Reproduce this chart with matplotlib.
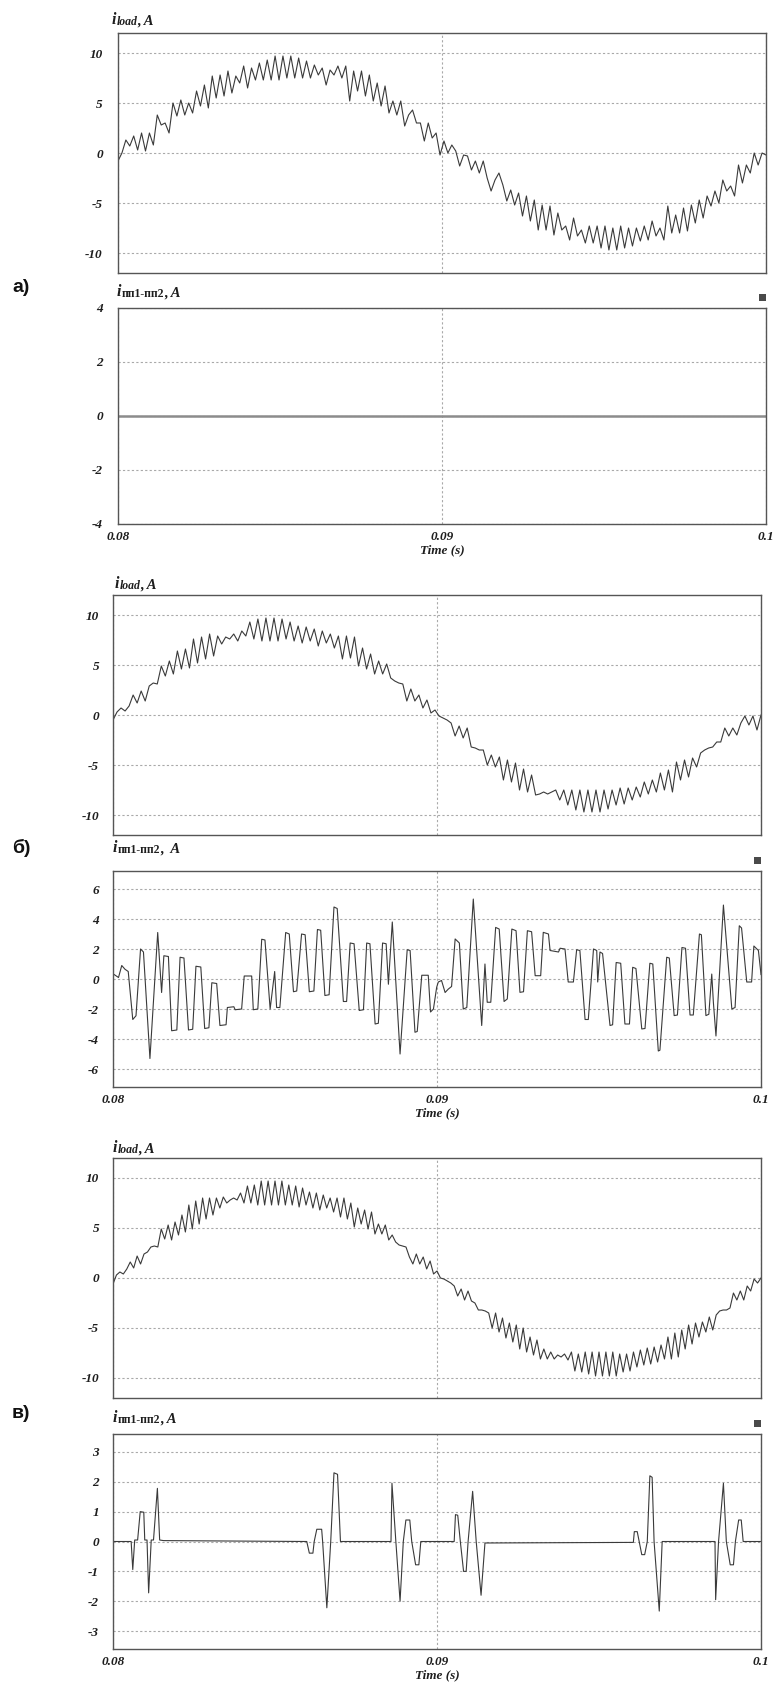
import numpy as np
import matplotlib
matplotlib.use("Agg")
import matplotlib.pyplot as plt
from matplotlib.patches import Rectangle

plt.rcParams['font.family'] = ['Liberation Serif', 'DejaVu Serif']
plt.rcParams['axes.unicode_minus'] = False

W, H = 776, 1686
t0, t1 = 0.08, 0.1

# load current, panel a (uniform samples over 0.08..0.1 s)
iload_a = [-0.8, 0.0,
           1.3, 0.7, 1.7, 0.3, 2.0, 0.2, 2.0, 0.8,
           3.8, 2.8, 3.0, 2.0,
           5.0, 3.7, 5.3, 3.8, 5.0, 4.0,
           6.2, 4.7, 6.8, 4.5, 7.7, 5.5, 7.8, 5.7,
           8.2, 6.0, 7.7, 7.0, 8.7, 6.5,
           8.5, 7.3, 9.0, 7.3, 9.3, 7.3, 9.7, 7.3, 9.7, 7.5, 9.7, 7.5,
           9.5, 7.5, 9.2, 7.5, 8.8, 7.8, 8.5, 6.8, 8.3, 7.8, 8.7, 7.5,
           8.7, 5.2, 8.2, 6.2, 8.2, 5.7,
           7.8, 5.2, 7.0, 4.7, 6.7, 4.0, 5.2, 3.8,
           5.2, 2.7, 3.8, 4.3, 3.0, 3.0, 1.2, 3.0, 1.5, 2.0,
           -0.2, 1.2, 0.0, 0.8, 0.2, -1.3, -0.2, -0.3, -1.7, -0.8,
           -2.0, -0.8, -2.5, -3.8, -2.7, -2.0, -3.2, -4.8, -3.7,
           -5.2, -4.0, -6.3, -4.3, -6.8, -4.7, -7.7, -5.2, -7.7, -5.3,
           -8.2, -6.0, -7.7, -7.3, -8.7, -6.5, -8.3, -7.7, -9.0, -7.3,
           -9.0, -7.3, -9.5, -7.3, -9.7, -7.5, -9.7, -7.3, -9.5, -7.5,
           -9.3, -7.5, -8.8, -7.3, -8.7, -6.8, -8.3, -7.5, -8.7, -5.3,
           -8.0, -6.2, -8.0, -5.5, -7.8, -5.2, -7.0, -4.7, -6.5, -4.3,
           -5.3, -3.8, -5.0, -2.7, -3.8, -3.3, -4.3, -1.2, -3.0, -1.2,
           -2.0, 0.0, -1.2, 0.0, -0.2]

# switch current, panel a (zero)
isw_a_ms = [0.0, 20.0]
isw_a = [0.0, 0.0]

# load current, panel b
iload_b = [-0.5, 0.3, 0.7, 0.4, 0.9, 2.0, 1.2, 2.4, 1.4,
           2.9, 3.2, 3.1, 4.9, 3.9, 5.4, 4.1, 6.4, 4.6,
           6.6, 4.7, 7.6, 5.2, 7.8, 5.6, 8.1, 5.9, 7.9, 7.1,
           7.8, 7.6, 8.1, 7.4, 8.4, 7.9, 9.3, 7.6, 9.6, 7.4,
           9.7, 7.4, 9.7, 7.4, 9.6, 7.6, 9.3, 7.4, 8.9, 7.2,
           8.8, 7.4, 8.6, 6.9, 8.4, 7.2, 8.1, 6.7, 7.9, 5.6,
           7.9, 5.7, 7.8, 4.9, 6.7, 4.6, 6.1, 4.1, 5.4, 4.1,
           5.1, 3.7, 3.4, 3.2, 3.1, 1.4, 2.6, 1.4, 2.0, 0.7,
           1.5, 0.2, 0.5, -0.1, -0.3, -0.5, -0.8, -2.1, -1.1, -2.3,
           -1.3, -3.2, -3.3, -3.5, -3.5, -5.0, -4.0, -5.2, -4.2, -6.5,
           -4.5, -6.7, -4.8, -7.5, -5.4, -7.7, -6.0, -8.0, -7.9, -7.7,
           -7.9, -7.7, -7.5, -8.5, -7.5, -9.0, -7.5, -9.5, -7.5, -9.7,
           -7.5, -9.7, -7.5, -9.7, -7.5, -9.4, -7.5, -9.0, -7.3, -8.9,
           -7.3, -8.5, -7.2, -8.2, -6.7, -7.9, -6.5, -7.7, -5.8, -7.5,
           -5.5, -7.7, -4.7, -6.5, -4.5, -6.2, -4.3, -5.2, -3.8, -3.5,
           -3.3, -3.2, -2.7, -2.7, -1.3, -2.1, -1.3, -2.0, -0.8, -0.1,
           -1.0, -0.1, -1.5, 0.0]

# switch current, panel b (time in ms after 0.08 s)
isw_b_ms = [0.0, 0.17, 0.27, 0.37, 0.47, 0.61, 0.71, 0.85, 0.94, 1.14,
            1.38, 1.50, 1.57, 1.71, 1.81, 1.97, 2.07, 2.19, 2.33, 2.46,
            2.56, 2.71, 2.83, 2.96, 3.05, 3.20, 3.30, 3.49, 3.53, 3.73,
            3.77, 3.97, 4.05, 4.28, 4.33, 4.47, 4.59, 4.69, 4.85, 4.99,
            5.05, 5.15, 5.33, 5.44, 5.57, 5.67, 5.82, 5.93, 6.06, 6.20,
            6.31, 6.41, 6.54, 6.67, 6.82, 6.92, 7.11, 7.21, 7.32, 7.44,
            7.60, 7.73, 7.83, 7.93, 8.09, 8.19, 8.32, 8.43, 8.50, 8.62,
            8.86, 9.08, 9.17, 9.32, 9.39, 9.53, 9.73, 9.80, 9.89, 9.99,
            10.04, 10.14, 10.25, 10.35, 10.45, 10.56, 10.69, 10.81, 10.92, 11.12,
            11.38, 11.48, 11.55, 11.66, 11.81, 11.92, 12.07, 12.17, 12.31, 12.44,
            12.56, 12.67, 12.79, 12.92, 13.03, 13.20, 13.28, 13.44, 13.49, 13.75,
            13.80, 13.95, 14.05, 14.21, 14.31, 14.41, 14.57, 14.67, 14.83, 14.93,
            14.96, 15.03, 15.11, 15.34, 15.42, 15.53, 15.67, 15.80, 15.94, 16.04,
            16.14, 16.32, 16.42, 16.57, 16.66, 16.83, 16.88, 17.09, 17.17, 17.32,
            17.42, 17.56, 17.67, 17.81, 17.91, 18.10, 18.16, 18.30, 18.39, 18.48,
            18.53, 18.61, 18.84, 19.10, 19.20, 19.33, 19.40, 19.56, 19.71, 19.78,
            19.92, 20.0]
isw_b = [0.35, 0.1, 0.9, 0.65, 0.5, -2.7, -2.45, 2.0, 1.8, -5.3,
         3.1, -0.9, 1.55, 1.5, -3.45, -3.4, 1.45, 1.4, -3.4, -3.35,
         0.85, 0.8, -3.3, -3.25, -0.25, -0.3, -3.1, -3.05, -1.9, -1.85,
         -2.05, -2.0, 0.2, 0.2, -2.05, -2.0, 2.65, 2.6, -2.0, 0.5,
         -1.9, -1.9, 3.1, 3.0, -0.85, -0.8, 3.0, 2.95, -0.85, -0.8,
         3.3, 3.25, -1.1, -1.05, 4.8, 4.7, -1.5, -1.5, 2.4, 2.35,
         -2.1, -2.05, 2.4, 2.35, -3.0, -2.95, 2.4, 2.35, -0.35, 3.8,
         -5.0, 1.95, 1.9, -3.55, -3.5, 0.25, 0.25, -2.2, -2.0, -0.55,
         -0.2, -0.1, -0.9, -0.67, -0.5, 2.67, 2.4, -2.0, -1.9, 5.33,
         -3.1, 1.0, -1.55, -1.55, 3.44, 3.33, -1.5, -1.33, 3.33, 3.22,
         -0.89, -0.85, 3.22, 3.15, 0.22, 0.22, 3.11, 3.0, 1.9, 1.8,
         2.05, 2.0, -0.2, -0.2, 1.95, 1.9, -2.7, -2.7, 2.0, 1.9,
         -0.2, 1.8, 1.7, -3.1, -3.05, 1.1, 1.05, -3.0, -3.0, 0.78,
         0.7, -3.33, -3.3, 1.05, 1.0, -4.8, -4.75, 1.45, 1.4, -2.44,
         -2.4, 2.1, 2.05, -2.4, -2.4, 3.0, 2.95, -2.44, -2.35, 0.33,
         -1.55, -3.8, 4.93, -2.0, -1.9, 3.55, 3.4, -0.2, -0.2, 2.2,
         1.9, 0.3]

# load current, panel c
iload_c = [-0.6, 0.3, 0.6, 0.4, 0.9, 1.6, 1.0, 2.2, 1.4, 2.4,
           2.6, 3.1, 3.2, 3.1, 4.9, 3.9, 5.3, 3.8, 5.6, 4.3,
           6.3, 4.6, 7.3, 4.9, 7.7, 5.4, 8.0, 5.9, 8.0, 6.3,
           8.0, 7.0, 8.1, 7.5, 7.8, 8.0, 7.8, 8.5, 7.5, 9.2,
           7.5, 9.3, 7.3, 9.7, 7.3, 9.7, 7.3, 9.7, 7.3, 9.7,
           7.3, 9.3, 7.3, 9.2, 7.1, 9.0, 7.3, 8.6, 7.0, 8.5,
           6.8, 8.3, 7.0, 8.0, 6.6, 8.0, 6.1, 8.0, 5.9, 7.5,
           5.1, 7.0, 5.4, 6.8, 4.9, 6.6, 4.4, 5.4, 4.4, 5.3,
           3.8, 4.3, 3.6, 3.3, 3.2, 3.1, 2.1, 1.4, 2.4, 1.4,
           2.1, 0.9, 1.7, 0.4, 0.7, 0.0,
           -0.1, -0.3, -0.5, -0.8, -1.8, -1.1, -2.2, -1.3, -2.3, -2.5,
           -3.2, -3.2, -3.3, -3.5, -5.0, -3.5, -5.4, -4.0, -6.0, -4.5,
           -6.4, -4.7, -7.1, -5.0, -7.4, -5.9, -7.7, -6.2, -8.1, -7.1,
           -8.1, -7.4, -8.1, -7.7, -7.9, -7.6, -8.2, -7.4, -9.3, -7.6,
           -9.4, -7.4, -9.6, -7.4, -9.8, -7.4, -9.8, -7.4, -9.8, -7.4,
           -9.8, -7.6, -9.4, -7.6, -9.3, -7.4, -8.9, -7.2, -8.7, -7.0,
           -8.6, -6.9, -8.4, -6.7, -8.1, -5.9, -8.1, -5.5, -7.9, -5.2,
           -7.1, -4.7, -6.6, -4.5, -5.9, -4.4, -5.4, -3.9, -5.2, -3.7,
           -3.3, -3.2, -3.2, -3.0, -1.5, -2.2, -1.3, -2.2, -0.8, -1.3,
           -0.1, -0.5, 0.0]

# switch current, panel c
isw_c_ms = [0.0, 0.56, 0.61, 0.67, 0.76, 0.84, 0.95, 0.98, 1.05, 1.10,
            1.18, 1.25, 1.37, 1.44, 1.56, 5.98, 6.06, 6.17, 6.21, 6.29,
            6.44, 6.47, 6.60, 6.72, 6.82, 6.93, 7.02, 8.58, 8.61, 8.73,
            8.86, 8.96, 9.04, 9.16, 9.22, 9.34, 9.44, 9.50, 10.53, 10.57,
            10.64, 10.72, 10.82, 10.90, 10.96, 11.10, 11.21, 11.36, 11.48, 16.06,
            16.09, 16.18, 16.24, 16.32, 16.41, 16.49, 16.57, 16.64, 16.70, 16.86,
            16.95, 18.58, 18.60, 18.69, 18.84, 18.93, 19.05, 19.15, 19.21, 19.31,
            19.39, 19.45, 20.0]
isw_c = [0.0, 0.0, -0.94, 0.05, 0.05, 1.0, 0.98, 0.05, 0.05, -1.72,
         0.05, 0.05, 1.78, 0.05, 0.03, 0.0, -0.39, -0.39, 0.0, 0.41,
         0.41, 0.0, -2.22, 0.0, 2.3, 2.25, 0.0, 0.0, 1.95, 0.0,
         -2.0, 0.0, 0.72, 0.72, 0.0, -0.78, -0.78, 0.0, 0.0, 0.9,
         0.88, 0.0, -1.0, -1.0, 0.0, 1.68, 0.0, -1.8, -0.05, -0.03,
         0.33, 0.33, 0.0, -0.44, -0.44, 0.0, 2.2, 2.15, 0.0, -2.33,
         0.0, 0.0, -1.95, 0.0, 1.95, 0.0, -0.78, -0.78, 0.0, 0.72,
         0.72, 0.0, 0.0]

load_ticks = [-10, -5, 0, 5, 10]
x_ticks = [0.08, 0.09, 0.1]
x_labels = ['0.08', '0.09', '0.1']

line_col = '#3a3a3a'
grid_col = '#a9a9a9'
text_col = '#1e1e1e'

fig = plt.figure(figsize=(W / 100, H / 100), dpi=100)


def px_axes(l, r, t, b):
    return fig.add_axes([l / W, 1 - b / H, (r - l) / W, (b - t) / H])


def style(ax, ylim, yticks, bottom, ypad):
    ax.set_xlim(t0, t1)
    ax.set_ylim(*ylim)
    ax.set_xticks(x_ticks)
    ax.set_xticklabels(x_labels)
    ax.set_yticks(yticks)
    ax.set_yticklabels(['%g' % v for v in yticks])
    ax.tick_params(length=0, labelsize=9.5, colors=text_col)
    ax.tick_params(axis='y', pad=ypad)
    ax.tick_params(axis='x', pad=5)
    for lab in ax.get_xticklabels() + ax.get_yticklabels():
        lab.set_fontstyle('italic')
        lab.set_fontweight('bold')
    ax.grid(True, color=grid_col, linestyle=(0, (2, 2)), linewidth=0.8)
    for s in ax.spines.values():
        s.set_color('#555555')
        s.set_linewidth(1.0)
    if bottom:
        ax.set_xlabel('Time (s)', fontsize=9.5, fontstyle='italic',
                      fontweight='bold', color=text_col, labelpad=1)
    else:
        ax.tick_params(labelbottom=False)


def title(ax, x, y, sub, tail, sub_style):
    ti = fig.text(x / W, 1 - y / H, 'i', fontsize=11.5, fontstyle='italic',
                  fontweight='bold', color=text_col, va='baseline')
    ts = ax.annotate(sub, xy=(1, 0), xycoords=ti, va='bottom', ha='left',
                     fontsize=8.5, fontstyle=sub_style, fontweight='bold',
                     color=text_col)
    ax.annotate(tail, xy=(1, 0), xycoords=ts, va='bottom', ha='left',
                fontsize=10.5, fontstyle='italic', fontweight='bold',
                color=text_col)


def marker(ax_right, ax_top):
    fig.add_artist(Rectangle(((ax_right - 7) / W, 1 - (ax_top - 7) / H),
                             7 / W, 7 / H, transform=fig.transFigure,
                             color='#4a4a4a', lw=0))


def panel_label(y, txt):
    fig.text(12 / W, 1 - y / H, txt, fontsize=14, fontweight='bold',
             family=['Liberation Sans', 'DejaVu Sans'], va='center',
             ha='left', color='#111111')


# ---- panel a ----
ax = px_axes(118, 766, 33, 273)
ax.plot(np.linspace(t0, t1, len(iload_a)), iload_a, color=line_col, lw=0.8)
style(ax, (-12, 12), load_ticks, False, 11)
title(ax, 112, 24, 'load', ', A', 'italic')

ax = px_axes(118, 766, 308, 524)
ax.plot(t0 + np.array(isw_a_ms) / 1000, isw_a, color='#8c8c8c', lw=1.8)
style(ax, (-4, 4), [-4, -2, 0, 2, 4], True, 11)
title(ax, 117, 296, 'пп1-пп2', ', A', 'normal')
marker(766, 308)
panel_label(288, 'а)')

# ---- panel b ----
ax = px_axes(113, 761, 595, 835)
ax.plot(np.linspace(t0, t1, len(iload_b)), iload_b, color=line_col, lw=0.8)
style(ax, (-12, 12), load_ticks, False, 10)
title(ax, 115, 588, 'load', ', A', 'italic')

ax = px_axes(113, 761, 871, 1087)
ax.plot(t0 + np.array(isw_b_ms) / 1000, isw_b, color=line_col, lw=0.8)
style(ax, (-7.2, 7.2), [-6, -4, -2, 0, 2, 4, 6], True, 10)
title(ax, 113, 852, 'пп1-пп2', ',  A', 'normal')
marker(761, 871)
panel_label(848, 'б)')

# ---- panel c ----
ax = px_axes(113, 761, 1158, 1398)
ax.plot(np.linspace(t0, t1, len(iload_c)), iload_c, color=line_col, lw=0.8)
style(ax, (-12, 12), load_ticks, False, 10)
title(ax, 113, 1152, 'load', ', A', 'italic')

ax = px_axes(113, 761, 1434, 1649)
ax.plot(t0 + np.array(isw_c_ms) / 1000, isw_c, color=line_col, lw=0.8)
style(ax, (-3.6, 3.6), [-3, -2, -1, 0, 1, 2, 3], True, 10)
title(ax, 113, 1422, 'пп1-пп2', ', A', 'normal')
marker(761, 1434)
panel_label(1413, 'в)')

fig.savefig('out.png', dpi=100)
